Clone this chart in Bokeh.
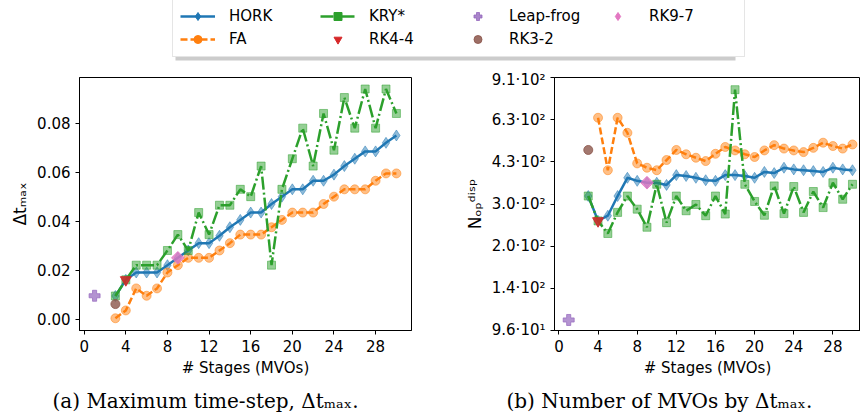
import math
from bokeh.plotting import figure
from bokeh.models import (Range1d, FixedTicker, CustomJSTickFormatter, Legend, LegendItem,
                          Title, PrintfTickFormatter)
from bokeh.layouts import column, row
from bokeh.embed import file_html
from bokeh.resources import INLINE

# ---------------- data ----------------
stages = list(range(3, 31))

hork_dt = [0.0094, 0.016, 0.019, 0.019, 0.019, 0.022, 0.025, 0.028, 0.031, 0.031,
           0.034, 0.0375, 0.0405, 0.0435, 0.0435, 0.047, 0.050, 0.053, 0.053, 0.0565,
           0.0565, 0.059, 0.0625, 0.0655, 0.0685, 0.0685, 0.072, 0.075]
fa_dt = [0.0003, 0.0035, 0.0125, 0.0095, 0.0125, 0.019, 0.022, 0.025, 0.025, 0.025,
         0.028, 0.031, 0.0345, 0.0345, 0.0345, 0.0375, 0.0405, 0.0435, 0.0435, 0.0435,
         0.047, 0.050, 0.053, 0.053, 0.053, 0.0565, 0.0595, 0.0595]
kry_dt = [0.0094, 0.016, 0.022, 0.022, 0.022, 0.028, 0.0345, 0.028, 0.0435, 0.0345,
          0.0465, 0.0465, 0.053, 0.050, 0.0625, 0.022, 0.053, 0.0655, 0.078, 0.0625,
          0.084, 0.069, 0.0905, 0.078, 0.094, 0.078, 0.094, 0.084]

hork_n = [317, 254, 266, 317, 373, 363, 357, 357, 350, 382, 379, 373, 365, 363, 382,
          382, 379, 373, 393, 389, 408, 402, 399, 396, 393, 408, 402, 399]
fa_n = [float("nan"), 637, 399, 637, 557, 424, 408, 399, 437, 478, 460, 446, 433, 462,
        491, 476, 460, 449, 476, 499, 484, 476, 469, 487, 510, 495, 484, 502]
kry_n = [317, 254, 227, 274, 317, 282, 240, 352, 250, 317, 278, 294, 266, 317, 270,
         818, 352, 302, 267, 347, 271, 345, 274, 330, 286, 357, 308, 352]

# single-method points: (stages, dt_max, N_op)
leapfrog = (1, 0.0095, 105)
rk44 = (4, 0.016, 254)
rk32 = (3, 0.0061, 478)
rk97 = (9, 0.025, 357)

x_ticks = [0, 4, 8, 12, 16, 20, 24, 28]
dt_ticks = [0.0, 0.02, 0.04, 0.06, 0.08]
n_limits = (95.6, 912.0)
n_tick_count = 7

# ---------------- styling ----------------
BLUE, ORANGE, GREEN = "#1f77b4", "#ff7f0e", "#2ca02c"
RED, PURPLE, BROWN, PINK = "#d62728", "#9467bd", "#8c564b", "#e377c2"
FONT = "DejaVu Sans"
TICK_FS = "15px"
LW = 2.5
DASH_FA = "7 3"
DASH_KRY = "13 3 2 3"
NAN = [float("nan")]


def style(p):
    p.outline_line_color = "black"
    p.outline_line_width = 1
    p.xgrid.visible = False
    p.ygrid.visible = False
    p.background_fill_color = "white"
    p.border_fill_color = "white"
    for ax in p.axis:
        ax.major_tick_out = 4
        ax.major_tick_in = 0
        ax.minor_tick_line_color = None
        ax.axis_line_color = "black"
        ax.major_tick_line_color = "black"
        ax.major_label_text_font = FONT
        ax.major_label_text_font_size = TICK_FS
        ax.major_label_text_color = "black"
        ax.axis_label_text_font = FONT
        ax.axis_label_text_font_size = TICK_FS
        ax.axis_label_text_font_style = "normal"
        ax.axis_label_text_color = "black"
        ax.major_label_standoff = 5
        ax.axis_label_standoff = 4
    p.yaxis.axis_label_text_font_size = "17px"


def draw_series(p, ys_h, ys_f, ys_k, idx):
    p.line(stages, ys_h, line_color=BLUE, line_width=LW)
    p.scatter(stages, ys_h, marker="diamond", size=11, color=BLUE, alpha=0.5)
    p.line(stages, ys_f, line_color=ORANGE, line_width=LW, line_dash=DASH_FA)
    p.scatter(stages, ys_f, marker="circle", size=9, color=ORANGE, alpha=0.5)
    p.line(stages, ys_k, line_color=GREEN, line_width=LW, line_dash=DASH_KRY)
    p.scatter(stages, ys_k, marker="square", size=8, color=GREEN, alpha=0.5)
    p.scatter([leapfrog[0]], [leapfrog[idx]], marker="plus", size=11, color=PURPLE, alpha=0.7)
    p.scatter([rk44[0]], [rk44[idx]], marker="inverted_triangle", size=11, color=RED, alpha=0.85)
    p.scatter([rk32[0]], [rk32[idx]], marker="circle", size=9, color=BROWN, alpha=0.8)
    p.scatter([rk97[0]], [rk97[idx]], marker="square", angle=math.pi / 4, size=9,
              color=PINK, alpha=0.8)


def caption(p, text, offset):
    p.add_layout(Title(text=text, align="left", offset=offset, standoff=14,
                       text_font="DejaVu Serif", text_font_size="20px",
                       text_font_style="normal", text_color="black"), "below")


# ---------------- (a) ----------------
pa = figure(width=461, height=349, x_range=Range1d(-0.45, 31.45),
            y_range=Range1d(-0.0047, 0.0987), toolbar_location=None,
            output_backend="svg", min_border_left=79, min_border_right=50,
            min_border_top=7, min_border_bottom=89)
draw_series(pa, hork_dt, fa_dt, kry_dt, 1)
style(pa)
pa.xaxis.ticker = FixedTicker(ticks=x_ticks)
pa.yaxis.ticker = FixedTicker(ticks=dt_ticks)
pa.yaxis.formatter = PrintfTickFormatter(format="%.2f")
pa.xaxis.axis_label = "# Stages (MVOs)"
pa.yaxis.axis_label = "Δtₘₐₓ"
caption(pa, "(a) Maximum time-step, Δtₘₐₓ.", -27)

# ---------------- (b) ----------------
lo, hi = n_limits
n_ticks = [lo * (hi / lo) ** (i / (n_tick_count - 1)) for i in range(n_tick_count)]
pb = figure(width=399, height=349, x_range=Range1d(-0.45, 30.82),
            y_range=Range1d(lo * (1 - 1e-6), hi * (1 + 1e-6)), y_axis_type="log",
            toolbar_location=None, output_backend="svg", min_border_left=90,
            min_border_right=0, min_border_top=7, min_border_bottom=89)
draw_series(pb, hork_n, fa_n, kry_n, 2)
style(pb)
pb.xaxis.ticker = FixedTicker(ticks=x_ticks)
pb.yaxis.ticker = FixedTicker(ticks=n_ticks)
pb.yaxis.formatter = CustomJSTickFormatter(code="""
const e = Math.floor(Math.log10(tick) + 1e-9);
const m = tick / Math.pow(10, e);
const sup = {0: '⁰', 1: '¹', 2: '²', 3: '³'};
return m.toFixed(1) + '·10' + sup[e];
""")
pb.xaxis.axis_label = "# Stages (MVOs)"
pb.yaxis.axis_label = "Nₒₚᵈⁱˢᵖ"
caption(pb, "(b) Number of MVOs by Δtₘₐₓ.", -48)

# ---------------- legend ----------------
pl = figure(width=860, height=70, x_range=Range1d(0, 860), y_range=Range1d(0, 70),
            toolbar_location=None, output_backend="svg", min_border=0,
            x_axis_location=None, y_axis_location=None)
pl.outline_line_color = None
pl.xgrid.visible = False
pl.ygrid.visible = False
# legend shadow
pl.quad(left=[175], right=[735], bottom=[10], top=[80], fill_color="#999999",
        fill_alpha=0.5, line_color=None)

h_l = pl.line(x=NAN, y=NAN, line_color=BLUE, line_width=LW)
h_m = pl.scatter(x=NAN, y=NAN, marker="diamond", size=9, color=BLUE)
f_l = pl.line(x=NAN, y=NAN, line_color=ORANGE, line_width=LW, line_dash=DASH_FA)
f_m = pl.scatter(x=NAN, y=NAN, marker="circle", size=7, color=ORANGE)
k_l = pl.line(x=NAN, y=NAN, line_color=GREEN, line_width=LW, line_dash=DASH_KRY)
k_m = pl.scatter(x=NAN, y=NAN, marker="square", size=7, color=GREEN)
lf_m = pl.scatter(x=NAN, y=NAN, marker="plus", size=9, color=PURPLE, alpha=0.8)
r44_m = pl.scatter(x=NAN, y=NAN, marker="inverted_triangle", size=10, color=RED)
r32_m = pl.scatter(x=NAN, y=NAN, marker="circle", size=8, color=BROWN, alpha=0.85)
r97_m = pl.scatter(x=NAN, y=NAN, marker="diamond", size=12, color=PINK)

items = [
    LegendItem(label="HORK", renderers=[h_l, h_m]),
    LegendItem(label="FA", renderers=[f_l, f_m]),
    LegendItem(label="KRY*", renderers=[k_l, k_m]),
    LegendItem(label="RK4-4", renderers=[r44_m]),
    LegendItem(label="Leap-frog", renderers=[lf_m]),
    LegendItem(label="RK3-2", renderers=[r32_m]),
    LegendItem(label="RK9-7", renderers=[r97_m]),
]
legend = Legend(items=items, location=(172, 13), orientation="vertical", nrows=2,
                glyph_width=35, glyph_height=20, label_standoff=14, spacing=3,
                label_width=88, padding=7, margin=0, label_text_font=FONT,
                label_text_font_size="15px", label_text_color="black",
                border_line_color="#cccccc", border_line_width=1,
                background_fill_color="white", background_fill_alpha=1.0)
pl.add_layout(legend)

layout = column(pl, row(pa, pb, spacing=0), spacing=0)
open("out.html", "w").write(file_html(layout, INLINE))
